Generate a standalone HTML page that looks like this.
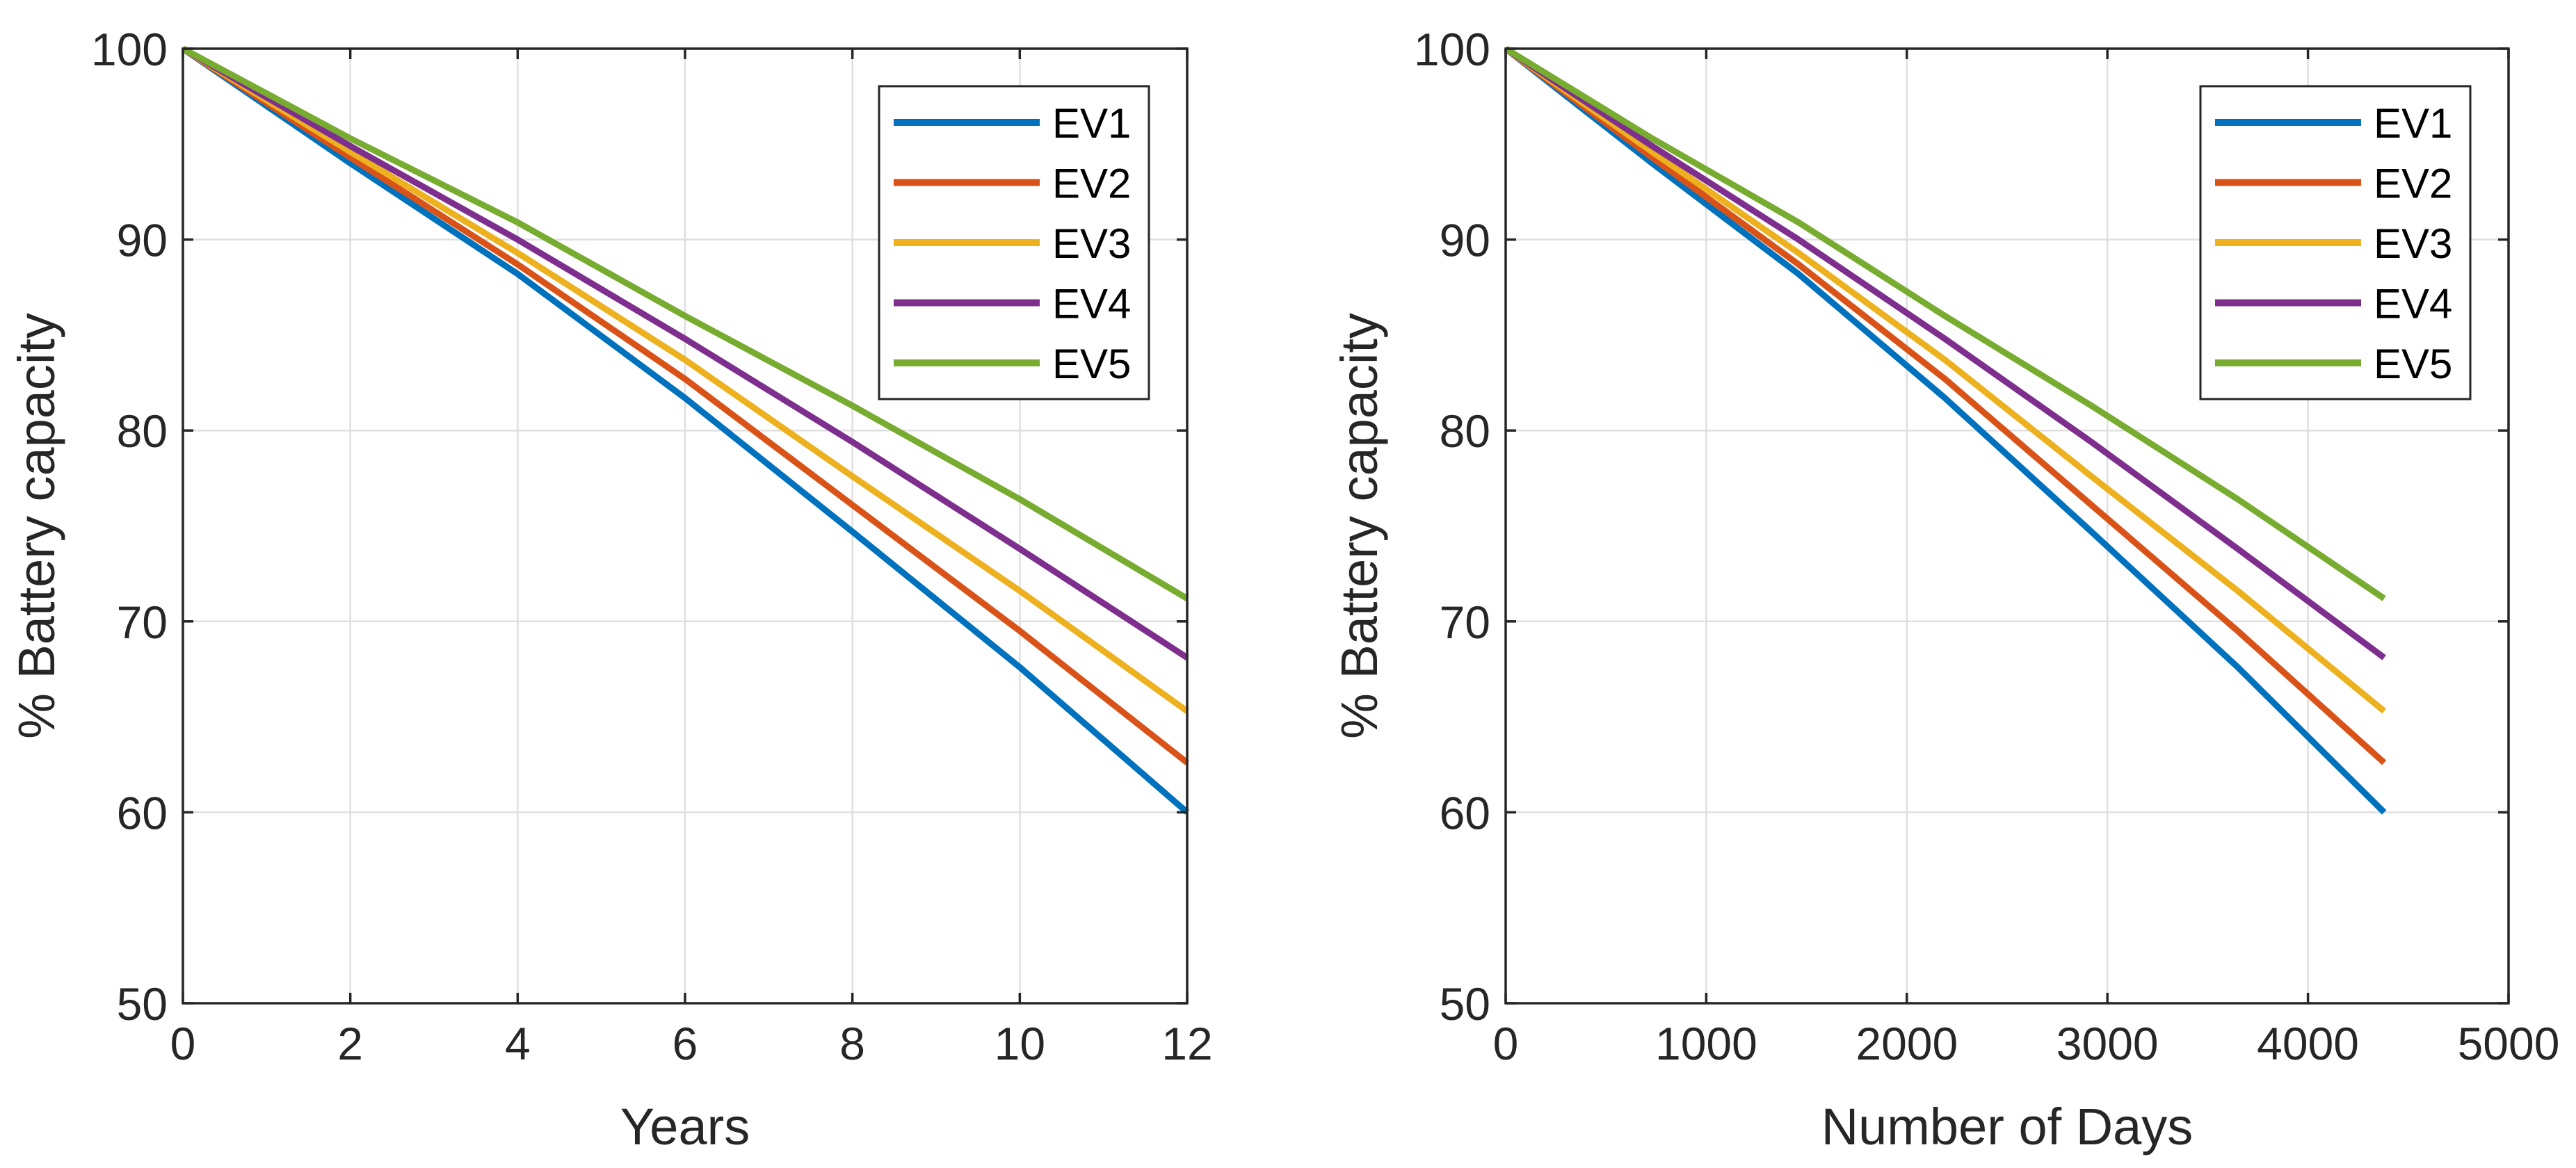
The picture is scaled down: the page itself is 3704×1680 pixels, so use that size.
<!DOCTYPE html>
<html><head><meta charset="utf-8"><style>
html,body{margin:0;padding:0;background:#fff;}
svg{display:block;font-family:"Liberation Sans",Arial,sans-serif;}
</style></head><body>
<svg id="chart" width="3704" height="1680" viewBox="0 0 3704 1680" xmlns="http://www.w3.org/2000/svg"></svg>
<script>
const years = [0, 2, 4, 6, 8, 10, 12];
const days = [0, 730, 1460, 2190, 2920, 3650, 4380];
const ev1 = [100, 94.0, 88.2, 81.7, 74.7, 67.6, 60.0];
const ev2 = [100, 94.3, 88.7, 82.7, 76.1, 69.5, 62.6];
const ev3 = [100, 94.6, 89.3, 83.7, 77.6, 71.6, 65.3];
const ev4 = [100, 94.9, 90.0, 84.8, 79.4, 73.8, 68.1];
const ev5 = [100, 95.3, 90.9, 86.0, 81.3, 76.4, 71.2];
const seriesNames = ["EV1", "EV2", "EV3", "EV4", "EV5"];
const yTicks = [50, 60, 70, 80, 90, 100];
const xTicksYears = [0, 2, 4, 6, 8, 10, 12];
const xTicksDays = [0, 1000, 2000, 3000, 4000, 5000];

const colors = ["#0072BD", "#D95319", "#EDB120", "#7E2F8E", "#77AC30"];
const allSeries = [ev1, ev2, ev3, ev4, ev5];
const NS = "http://www.w3.org/2000/svg";
const svg = document.getElementById("chart");
function mk(tag, attrs, parent) {
  const e = document.createElementNS(NS, tag);
  for (const k in attrs) e.setAttribute(k, attrs[k]);
  (parent || svg).appendChild(e);
  return e;
}

function drawPanel(id, L, R, T, B, xmin, xmax, xTicks, xs, xLabel) {
  const g = mk("g", {});
  
  
  const sx = v => L + (v - xmin) / (xmax - xmin) * (R - L);
  const sy = v => B - (v - 50) / 50 * (B - T);
  // grid
  xTicks.forEach(t => {
    if (t === xmin || t === xmax) return;
    const l = mk("line", {x1: sx(t), x2: sx(t), y1: T, y2: B, stroke: "#dfdfdf", "stroke-width": 2.5}, g);
    
    
  });
  yTicks.forEach(t => {
    if (t === 50 || t === 100) return;
    const l = mk("line", {x1: L, x2: R, y1: sy(t), y2: sy(t), stroke: "#dfdfdf", "stroke-width": 2.5}, g);
    
    
  });
  // series
  allSeries.forEach((s, i) => {
    const pts = s.map((v, j) => sx(xs[j]) + "," + sy(v)).join(" ");
    const p = mk("polyline", {points: pts, fill: "none", stroke: colors[i], "stroke-width": 9, "stroke-linejoin": "round"}, g);
    
    
  });
  // axes box
  const box = mk("rect", {x: L, y: T, width: R - L, height: B - T, fill: "none", stroke: "#262626", "stroke-width": 3.5}, g);
  
  
  // ticks + labels
  xTicks.forEach(t => {
    mk("line", {x1: sx(t), x2: sx(t), y1: B, y2: B - 15, stroke: "#262626", "stroke-width": 3.5}, g);
    mk("line", {x1: sx(t), x2: sx(t), y1: T, y2: T + 15, stroke: "#262626", "stroke-width": 3.5}, g);
    const tx = mk("text", {x: sx(t), y: 1524, "font-size": 66, fill: "#262626", "text-anchor": "middle"}, g);
    tx.textContent = t;
    
    
  });
  yTicks.forEach(t => {
    mk("line", {x1: L, x2: L + 15, y1: sy(t), y2: sy(t), stroke: "#262626", "stroke-width": 3.5}, g);
    mk("line", {x1: R, x2: R - 15, y1: sy(t), y2: sy(t), stroke: "#262626", "stroke-width": 3.5}, g);
    const tx = mk("text", {x: L - 22, y: sy(t) + 24, "font-size": 66, fill: "#262626", "text-anchor": "end"}, g);
    tx.textContent = t;
    
    
  });
  const xl = mk("text", {x: (L + R) / 2, y: 1646, "font-size": 74, fill: "#262626", "text-anchor": "middle"}, g);
  xl.textContent = xLabel;
  
  
  const yx = L - 185, yy = (T + B) / 2;
  const yl = mk("text", {x: yx, y: yy, "font-size": 74, fill: "#262626", "text-anchor": "middle", transform: "rotate(-90 " + yx + " " + yy + ")"}, g);
  yl.textContent = "% Battery capacity";
  
  
  // legend
  const lg = mk("g", {}, g);
  
  
  const lx = R - 443, ly = 124;
  mk("rect", {x: lx, y: ly, width: 388, height: 450, fill: "#fff", stroke: "#262626", "stroke-width": 3}, lg);
  seriesNames.forEach((n, i) => {
    const cy = 176 + i * 86.5;
    const e = mk("g", {}, lg);
    
    
    mk("line", {x1: lx + 21, x2: lx + 231, y1: cy, y2: cy, stroke: colors[i], "stroke-width": 10}, e);
    const t = mk("text", {x: lx + 249, y: cy + 22, "font-size": 60, fill: "#000"}, e);
    t.textContent = n;
  });
}
drawPanel("left-panel-years", 263, 1707, 70, 1443, 0, 12, xTicksYears, years, "Years");
drawPanel("right-panel-days", 2165, 3607, 70, 1443, 0, 5000, xTicksDays, days, "Number of Days");
</script>
</body></html>
